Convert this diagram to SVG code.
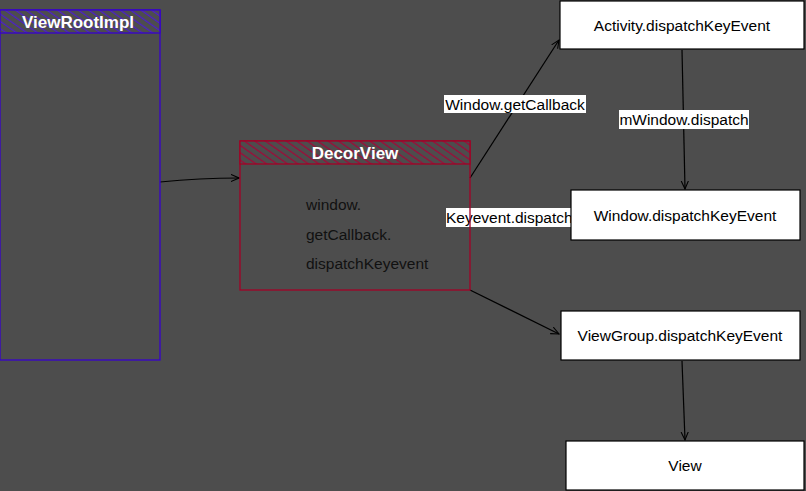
<svg xmlns="http://www.w3.org/2000/svg" width="806" height="491" viewBox="0 0 806 491">
<style>
.t{font-family:"Liberation Sans",Arial,sans-serif;font-size:15.5px;fill:#000;text-anchor:middle;dominant-baseline:central}
.ttl{font-family:"Liberation Sans",Arial,sans-serif;font-size:17px;font-weight:bold;fill:#fff;text-anchor:middle;dominant-baseline:central}
.box{fill:#fff;stroke:#000;stroke-width:1.2}
.lbl{fill:#fff}
.e{fill:none;stroke:#000;stroke-width:1.2;marker-end:url(#ah)}
.body{font-family:"Liberation Sans",Arial,sans-serif;font-size:15.5px;fill:#111}
</style>
<defs>
<marker id="ah" viewBox="0 0 10 10" refX="9" refY="5" markerWidth="9" markerHeight="9" orient="auto" markerUnits="userSpaceOnUse">
<path d="M0,1 L9,5 L0,9" fill="none" stroke="#000" stroke-width="1.2"/>
</marker>
<pattern id="hp" patternUnits="userSpaceOnUse" width="6" height="6" patternTransform="rotate(-55)">
<rect width="6" height="6" fill="#4d4d4d"/>
<line x1="0" y1="0" x2="0" y2="6" stroke="#4c1fcc" stroke-width="2.5"/>
</pattern>
<pattern id="hr" patternUnits="userSpaceOnUse" width="6" height="6" patternTransform="rotate(-55)">
<rect width="6" height="6" fill="#4d4d4d"/>
<line x1="0" y1="0" x2="0" y2="6" stroke="#a20838" stroke-width="2.5"/>
</pattern>
</defs>
<rect width="806" height="491" fill="#4d4d4d"/>

<g id="connectors">
<path class="e" d="M160,182 Q200,178 239,178"/>
<path class="e" d="M470,178 L559,40"/>
<path class="e" d="M682,50 L685,189"/>
<path class="e" d="M470,290 L559,334"/>
<path class="e" d="M682,361 L685,440"/>
<rect class="lbl" x="444" y="95" width="142" height="18"/>
<text class="t" x="515" y="104">Window.getCallback</text>
<rect class="lbl" x="619" y="110" width="130" height="19"/>
<text class="t" x="684" y="119">mWindow.dispatch</text>
<rect class="lbl" x="446" y="208" width="128" height="19"/>
<text class="t" x="446" y="217.5" style="text-anchor:start">Keyevent.dispatch</text>
</g>

<g id="ViewRootImpl">
<rect x="0" y="10" width="160" height="350" fill="none" stroke="#3700cc" stroke-width="1.3"/>
<rect x="0" y="10" width="160" height="23" fill="url(#hp)" stroke="#3700cc" stroke-width="1.3"/>
<text class="ttl" x="78" y="22">ViewRootImpl</text>
</g>

<g id="DecorView">
<rect x="240" y="141" width="230" height="149" fill="none" stroke="#a20025" stroke-width="1.3"/>
<rect x="240" y="141" width="230" height="23" fill="url(#hr)" stroke="#a20025" stroke-width="1.3"/>
<text class="ttl" x="355" y="153">DecorView</text>
<text class="body" x="306" y="210">window.</text>
<text class="body" x="306" y="240">getCallback.</text>
<text class="body" x="306" y="269">dispatchKeyevent</text>
</g>

<g id="Activity">
<rect class="box" x="560" y="1" width="244" height="48"/>
<text class="t" x="682" y="25">Activity.dispatchKeyEvent</text>
</g>

<g id="Window">
<rect class="box" x="571" y="190" width="229" height="50"/>
<text class="t" x="685" y="215">Window.dispatchKeyEvent</text>
</g>

<g id="ViewGroup">
<rect class="box" x="561" y="311" width="239" height="49"/>
<text class="t" x="680" y="335">ViewGroup.dispatchKeyEvent</text>
</g>

<g id="View">
<rect class="box" x="566" y="441" width="238" height="49"/>
<text class="t" x="685" y="465">View</text>
</g>
</svg>
